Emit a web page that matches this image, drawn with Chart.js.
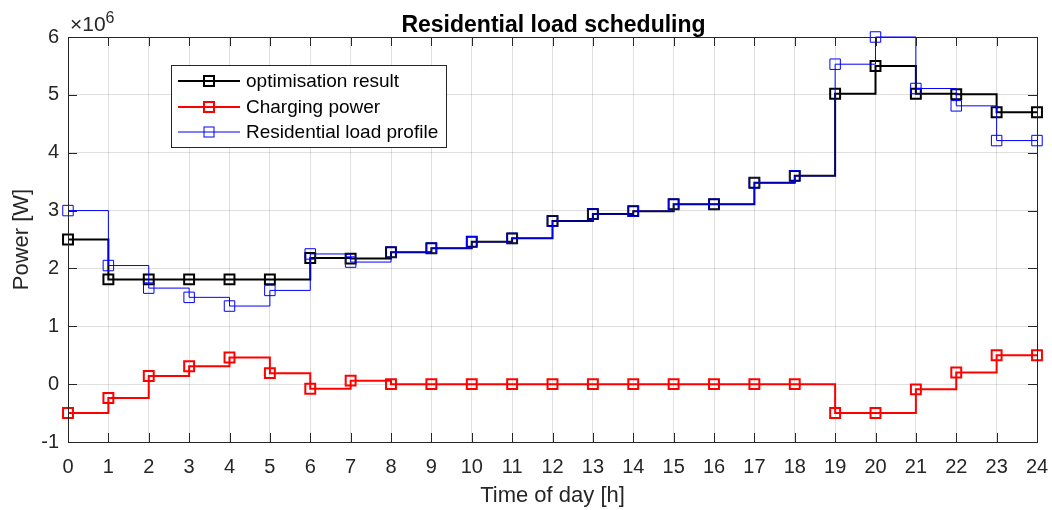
<!DOCTYPE html>
<html>
<head>
<meta charset="utf-8">
<script src="https://cdn.jsdelivr.net/npm/chart.js@4/dist/chart.umd.min.js"></script>
<style>
    html, body { margin: 0; padding: 0; background: #fff; }
    #wrap { width: 1052px; height: 510px; }
</style>
</head>
<body>
<div id="wrap"><canvas id="myChart" width="1052" height="510"></canvas></div>
<script>
// hours of the day (x values)
const hours = [0, 1, 2, 3, 4, 5, 6, 7, 8, 9, 10, 11, 12, 13, 14, 15, 16, 17, 18, 19, 20, 21, 22, 23, 24];

// values in units of 10^6 W
const optimisationResult = [2.50, 1.81, 1.81, 1.81, 1.81, 1.81, 2.18, 2.17, 2.28, 2.35, 2.46, 2.52, 2.82, 2.94, 2.99, 3.11, 3.11, 3.48, 3.60, 5.02, 5.50, 5.02, 5.01, 4.70, 4.70];
const chargingPower = [-0.50, -0.24, 0.14, 0.31, 0.46, 0.19, -0.08, 0.06, 0, 0, 0, 0, 0, 0, 0, 0, 0, 0, 0, -0.50, -0.50, -0.09, 0.20, 0.50, 0.50];
const residentialLoad = [3.00, 2.05, 1.66, 1.50, 1.35, 1.62, 2.25, 2.11, 2.28, 2.35, 2.46, 2.52, 2.82, 2.94, 2.99, 3.11, 3.11, 3.48, 3.60, 5.53, 6.00, 5.11, 4.81, 4.21, 4.21];

const yTicks = [-1, 0, 1, 2, 3, 4, 5, 6];
const legendLabels = ["optimisation result", "Charging power", "Residential load profile"];

const textColor = "#262626";
const fontFamily = "'Liberation Sans', Arial, sans-serif";

function toPoints(values) {
    return hours.map((h, i) => ({ x: h, y: values[i] }));
}

// box, inward ticks, title, exponent and legend drawn MATLAB-style
const matlabDecor = {
    id: "matlabDecor",
    afterDraw(chart) {
        const ctx = chart.ctx;
        const area = chart.chartArea;
        const xs = chart.scales.x;
        const ys = chart.scales.y;
        const tickLen = 9;

        ctx.save();
        ctx.strokeStyle = "#262626";
        ctx.lineWidth = 1;
        ctx.beginPath();
        hours.forEach(h => {
            const px = Math.round(xs.getPixelForValue(h)) + 0.5;
            ctx.moveTo(px, area.bottom);
            ctx.lineTo(px, area.bottom - tickLen);
            ctx.moveTo(px, area.top);
            ctx.lineTo(px, area.top + tickLen);
        });
        yTicks.forEach(v => {
            const py = Math.round(ys.getPixelForValue(v)) + 0.5;
            ctx.moveTo(area.left, py);
            ctx.lineTo(area.left + tickLen, py);
            ctx.moveTo(area.right, py);
            ctx.lineTo(area.right - tickLen, py);
        });
        ctx.stroke();
        ctx.strokeRect(Math.round(area.left) + 0.5, Math.round(area.top) + 0.5,
            Math.round(area.right - area.left), Math.round(area.bottom - area.top));

        // title
        ctx.fillStyle = "#000";
        ctx.font = "bold 23px " + fontFamily;
        ctx.textAlign = "center";
        ctx.textBaseline = "alphabetic";
        ctx.fillText("Residential load scheduling", (area.left + area.right) / 2 + 1, 32);

        // exponent
        ctx.fillStyle = textColor;
        ctx.textAlign = "left";
        ctx.font = "21px " + fontFamily;
        ctx.fillText("\u00d710", area.left + 2, 31);
        const w = ctx.measureText("\u00d710").width;
        ctx.font = "16px " + fontFamily;
        ctx.fillText("6", area.left + 2 + w, 23);

        // legend
        const lx = area.left + 103;
        const ly = area.top + 28;
        ctx.fillStyle = "#fff";
        ctx.fillRect(lx, ly, 275, 82);
        ctx.strokeStyle = "#262626";
        ctx.lineWidth = 1;
        ctx.strokeRect(lx + 0.5, ly + 0.5, 275, 82);

        const styles = [
            { color: "#000000", width: 2 },
            { color: "#ff0000", width: 2 },
            { color: "#0000ff", width: 1 }
        ];
        const rows = [16, 42, 67];
        legendLabels.forEach((label, i) => {
            const ry = ly + rows[i];
            ctx.strokeStyle = styles[i].color;
            ctx.lineWidth = styles[i].width;
            ctx.beginPath();
            ctx.moveTo(lx + 7, ry);
            ctx.lineTo(lx + 69, ry);
            ctx.stroke();
            ctx.strokeRect(lx + 33, ry - 5, 10, 10);
            ctx.fillStyle = "#000";
            ctx.font = "19px " + fontFamily;
            ctx.textAlign = "left";
            ctx.textBaseline = "middle";
            ctx.fillText(label, lx + 75, ry + 1);
        });
        ctx.restore();
    }
};

const ctx = document.getElementById("myChart");

new Chart(ctx, {
    type: "line",
    data: {
        datasets: [
            {
                label: legendLabels[0],
                data: toPoints(optimisationResult),
                borderColor: "#000000",
                borderWidth: 2,
                stepped: true,
                clip: false,
                pointStyle: "rect",
                pointRadius: 7,
                pointBorderWidth: 2,
                pointBorderColor: "#000000",
                pointBackgroundColor: "rgba(0,0,0,0)",
                order: 3
            },
            {
                label: legendLabels[1],
                data: toPoints(chargingPower),
                borderColor: "#ff0000",
                borderWidth: 2,
                stepped: true,
                clip: false,
                pointStyle: "rect",
                pointRadius: 7,
                pointBorderWidth: 2,
                pointBorderColor: "#ff0000",
                pointBackgroundColor: "rgba(0,0,0,0)",
                order: 2
            },
            {
                label: legendLabels[2],
                data: toPoints(residentialLoad),
                borderColor: "#0000ff",
                borderWidth: 1,
                stepped: true,
                clip: false,
                pointStyle: "rect",
                pointRadius: 7.4,
                pointBorderWidth: 1,
                pointBorderColor: "#0000ff",
                pointBackgroundColor: "rgba(0,0,0,0)",
                order: 1
            }
        ]
    },
    options: {
        responsive: false,
        animation: false,
        layout: { padding: { left: 0, right: 15, top: 37, bottom: 0 } },
        plugins: {
            legend: { display: false },
            tooltip: { enabled: false },
            title: { display: false }
        },
        scales: {
            x: {
                type: "linear",
                min: 0,
                max: 24,
                afterFit: scale => {
                    scale.height = 68;
                    scale.paddingLeft = 0;
                    scale.paddingRight = 0;
                },
                ticks: {
                    stepSize: 1,
                    color: textColor,
                    font: { family: fontFamily, size: 20 },
                    padding: 13,
                    maxRotation: 0
                },
                grid: { color: "rgba(38,38,38,0.15)", drawTicks: false },
                border: { display: false },
                title: {
                    display: true,
                    text: "Time of day [h]",
                    color: textColor,
                    font: { family: fontFamily, size: 22 },
                    padding: { top: 4, bottom: 1 }
                }
            },
            y: {
                min: -1,
                max: 6,
                afterFit: scale => {
                    scale.width = 68;
                    scale.paddingTop = 0;
                    scale.paddingBottom = 0;
                },
                ticks: {
                    stepSize: 1,
                    color: textColor,
                    font: { family: fontFamily, size: 20 },
                    padding: 9
                },
                grid: { color: "rgba(38,38,38,0.15)", drawTicks: false },
                border: { display: false },
                title: {
                    display: true,
                    text: "Power [W]",
                    color: textColor,
                    font: { family: fontFamily, size: 22 },
                    padding: { top: 9, bottom: 4 }
                }
            }
        }
    },
    plugins: [matlabDecor]
});
</script>
</body>
</html>
